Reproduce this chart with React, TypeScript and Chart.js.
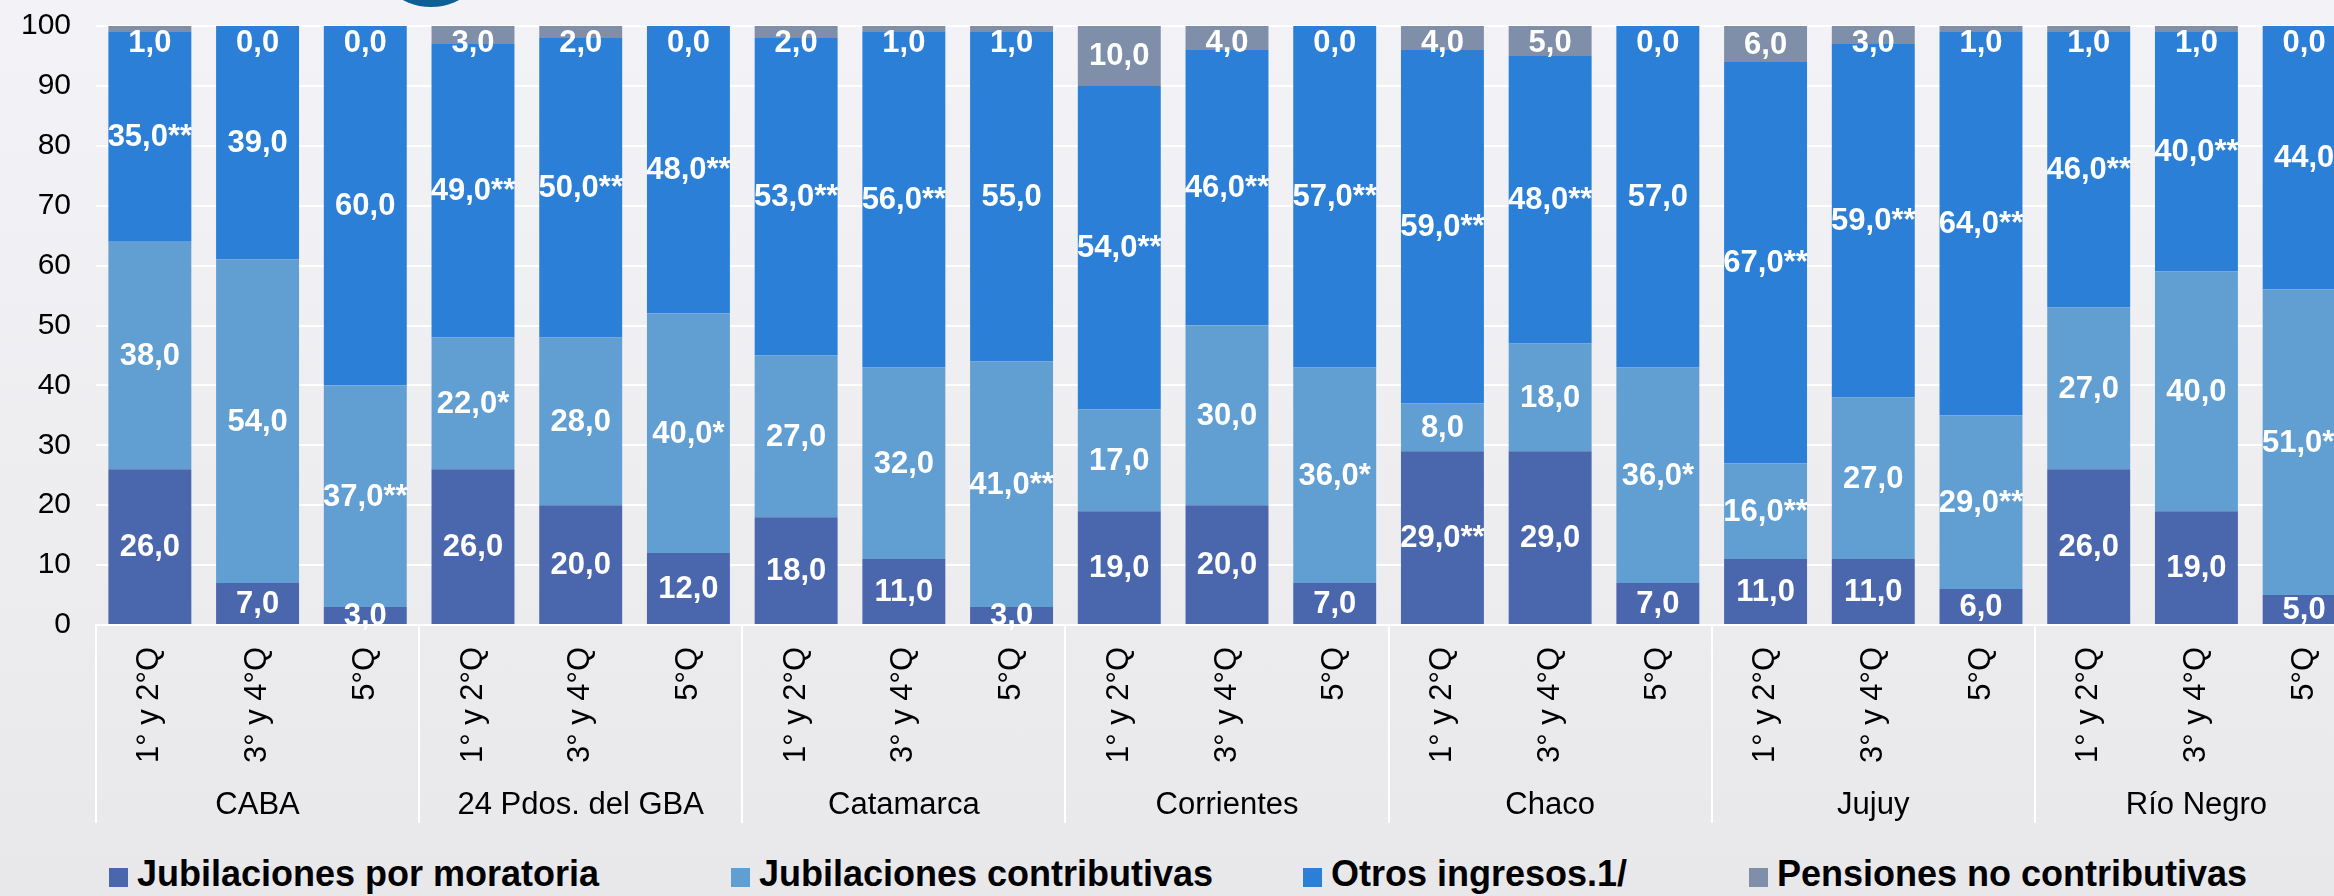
import React, { useEffect, useRef } from "react";
import { Chart, registerables } from "chart.js";

Chart.register(...registerables);

const provinces = ["CABA", "24 Pdos. del GBA", "Catamarca", "Corrientes", "Chaco", "Jujuy", "Río Negro"];
const quintiles = ["1° y 2°Q", "3° y 4°Q", "5°Q"];
const categories = provinces.flatMap(() => quintiles);

const moratoria = [26, 7, 3, 26, 20, 12, 18, 11, 3, 19, 20, 7, 29, 29, 7, 11, 11, 6, 26, 19, 5];
const moratoriaMarks = ["", "", "", "", "", "", "", "", "", "", "", "", "**", "", "", "", "", "", "", "", ""];
const contributivas = [38, 54, 37, 22, 28, 40, 27, 32, 41, 17, 30, 36, 8, 18, 36, 16, 27, 29, 27, 40, 51];
const contributivasMarks = ["", "", "**", "*", "", "*", "", "", "**", "", "", "*", "", "", "*", "**", "", "**", "", "", "**"];
const otros = [35, 39, 60, 49, 50, 48, 53, 56, 55, 54, 46, 57, 59, 48, 57, 67, 59, 64, 46, 40, 44];
const otrosMarks = ["**", "", "", "**", "**", "**", "**", "**", "", "**", "**", "**", "**", "**", "", "**", "**", "**", "**", "**", ""];
const pensiones = [1, 0, 0, 3, 2, 0, 2, 1, 1, 10, 4, 0, 4, 5, 0, 6, 3, 1, 1, 1, 0];
const pensionesMarks = categories.map(() => "");

const yTicks = [0, 10, 20, 30, 40, 50, 60, 70, 80, 90, 100];

const seriesNames = ["Jubilaciones por moratoria", "Jubilaciones contributivas", "Otros ingresos.1/", "Pensiones no contributivas"];
const seriesColors = ["#4a66ad", "#619ed2", "#2b7fd6", "#7f8faa"];

const FONT = "'Liberation Sans', Arial, Helvetica, sans-serif";
const legendLeft = [109, 731, 1303, 1749];

const labelPlugin = {
  id: "segLabels",
  afterDatasetsDraw(chart: any) {
    const ctx = chart.ctx;
    const top = chart.chartArea.top;
    ctx.save();
    ctx.font = `bold 31px ${FONT}`;
    ctx.fillStyle = "#ffffff";
    ctx.textAlign = "center";
    ctx.textBaseline = "middle";
    chart.data.datasets.forEach((ds: any, di: number) => {
      const meta = chart.getDatasetMeta(di);
      meta.data.forEach((el: any, i: number) => {
        const v = ds.data[i];
        const p = el.getProps(["x", "y", "base"], true);
        let cy = (p.y + p.base) / 2;
        if (cy < top + 16) cy = top + 16;
        const text = v.toFixed(1).replace(".", ",") + (ds.marks[i] || "");
        ctx.fillText(text, p.x, cy + 1);
      });
    });
    ctx.restore();
  },
};

const groupPlugin = {
  id: "groupAxis",
  afterDraw(chart: any) {
    const xs = chart.scales.x;
    const ctx = chart.ctx;
    const n = quintiles.length;
    const cw = xs.width / categories.length;
    ctx.save();
    ctx.strokeStyle = "#ffffff";
    ctx.lineWidth = 2;
    for (let g = 0; g <= provinces.length; g++) {
      const x = Math.round(xs.left + g * n * cw);
      ctx.beginPath();
      ctx.moveTo(x, xs.top);
      ctx.lineTo(x, xs.top + 198);
      ctx.stroke();
    }
    ctx.fillStyle = "#000000";
    ctx.font = `31px ${FONT}`;
    ctx.textAlign = "center";
    ctx.textBaseline = "middle";
    provinces.forEach((p, g) => {
      const cx = xs.left + (g * n + n / 2) * cw;
      ctx.fillText(p, cx, xs.top + 180);
    });
    ctx.restore();
  },
};

export default function App() {
  const ref = useRef<HTMLCanvasElement | null>(null);

  useEffect(() => {
    if (!ref.current) return;
    const values = [moratoria, contributivas, otros, pensiones];
    const marks = [moratoriaMarks, contributivasMarks, otrosMarks, pensionesMarks];
    const chart = new Chart(ref.current, {
      type: "bar",
      data: {
        labels: categories,
        datasets: seriesNames.map((name, i) => ({
          label: name,
          data: values[i],
          marks: marks[i],
          backgroundColor: seriesColors[i],
          borderWidth: 0,
          barPercentage: 0.77,
          categoryPercentage: 1,
        })) as any,
      },
      options: {
        responsive: false,
        animation: false,
        devicePixelRatio: 1,
        layout: { padding: { top: 26, right: 4, left: 0, bottom: 0 } },
        plugins: {
          legend: { display: false },
          tooltip: { enabled: false },
        },
        scales: {
          x: {
            stacked: true,
            grid: { display: false, drawTicks: false },
            border: { display: true, color: "#ffffff", width: 2 },
            ticks: {
              autoSkip: false,
              maxRotation: 90,
              minRotation: 90,
              padding: 22,
              color: "#000000",
              font: { family: FONT, size: 31 },
            },
            afterFit: (scale: any) => {
              scale.height = 225;
              scale.paddingLeft = 0;
              scale.paddingRight = 0;
            },
          },
          y: {
            stacked: true,
            min: 0,
            max: 100,
            afterBuildTicks: (scale: any) => {
              scale.ticks = yTicks.map((v) => ({ value: v }));
            },
            grid: { color: "#ffffff", lineWidth: 2, drawTicks: false },
            border: { display: false },
            ticks: {
              padding: 25,
              color: "#000000",
              font: { family: FONT, size: 30 },
            },
            afterFit: (scale: any) => {
              scale.width = 96;
              scale.paddingTop = 0;
              scale.paddingBottom = 0;
            },
          },
        },
      },
      plugins: [labelPlugin, groupPlugin],
    });
    return () => chart.destroy();
  }, []);

  return (
    <div
      style={{
        position: "fixed",
        left: 0,
        top: 0,
        width: 2334,
        height: 896,
        overflow: "hidden",
        background: "linear-gradient(to bottom, #f3f3f7 0%, #ededf0 60%, #e8e8ea 100%)",
        fontFamily: FONT,
      }}
    >
      <div
        style={{
          position: "absolute",
          left: 371,
          top: -113,
          width: 120,
          height: 120,
          borderRadius: "50%",
          background: "#0e5f94",
        }}
      />
      <div style={{ position: "absolute", left: 0, top: 0 }}>
        <canvas ref={ref} width={2362} height={850} style={{ display: "block" }} />
      </div>
      {seriesNames.map((name, i) => (
        <div
          key={name}
          style={{
            position: "absolute",
            left: legendLeft[i],
            top: 857,
            height: 40,
            display: "flex",
            alignItems: "center",
            whiteSpace: "nowrap",
          }}
        >
          <div style={{ width: 19, height: 19, background: seriesColors[i], marginRight: 9 }} />
          <div style={{ fontWeight: "bold", fontSize: 36, lineHeight: "40px", color: "#000", marginBottom: 7 }}>{name}</div>
        </div>
      ))}
    </div>
  );
}
